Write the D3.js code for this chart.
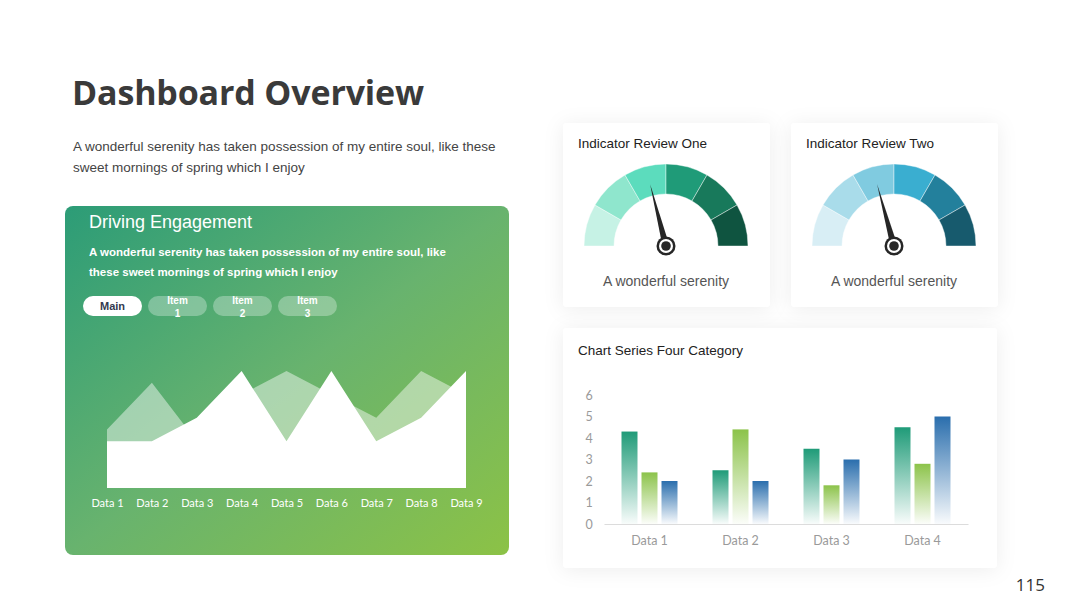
<!DOCTYPE html>
<html>
<head>
<meta charset="utf-8">
<script src="https://cdn.jsdelivr.net/npm/d3@7"></script>
<style>
  html, body { margin: 0; padding: 0; background: #fff; }
  svg { display: block; }
</style>
</head>
<body>
<div id="chart"></div>
<script>
// area chart data (Driving Engagement panel)
const areaLabels = ["Data 1", "Data 2", "Data 3", "Data 4", "Data 5", "Data 6", "Data 7", "Data 8", "Data 9"];
const areaBack = [2.5, 4.5, 2, 4, 5, 4, 3, 5, 4];
const areaFront = [2, 2, 3, 5, 2, 5, 2, 3, 5];

// gauges
const gaugeTitles = ["Indicator Review One", "Indicator Review Two"];
const gaugeValues = [42, 41.5];
const gaugeColors = [
    ["#c6f2e5", "#8fe6cd", "#5cdcbd", "#1f9b78", "#18795b", "#0f5440"],
    ["#d8eef5", "#a9dcea", "#80cbe0", "#3aaed0", "#23809c", "#175a6d"]
];

// grouped bar chart
const barCategories = ["Data 1", "Data 2", "Data 3", "Data 4"];
const barSeries = ["Series 1", "Series 2", "Series 3"];
const series1 = [4.3, 2.5, 3.5, 4.5];
const series2 = [2.4, 4.4, 1.8, 2.8];
const series3 = [2, 2, 3, 5];
const barTicks = [0, 1, 2, 3, 4, 5, 6];
const barColors = ["#1f9b78", "#8cc34a", "#2a6ead"];

const pills = ["Main", "Item 1", "Item 2", "Item 3"];

const W = 1080, H = 608;
const svg = d3.select("#chart").append("svg")
    .attr("width", W)
    .attr("height", H);

const defs = svg.append("defs");

// soft shadow for white cards
const sh = defs.append("filter").attr("id", "shadow")
    .attr("x", "-20%").attr("y", "-20%").attr("width", "140%").attr("height", "140%");
sh.append("feDropShadow").attr("dx", 0).attr("dy", 2).attr("stdDeviation", 10)
    .attr("flood-color", "#000").attr("flood-opacity", 0.07);

// green panel gradient
const gg = defs.append("linearGradient").attr("id", "panelGrad")
    .attr("x1", "0%").attr("y1", "0%").attr("x2", "100%").attr("y2", "100%");
gg.append("stop").attr("offset", "0%").attr("stop-color", "#2c9c77");
gg.append("stop").attr("offset", "50%").attr("stop-color", "#68b36e");
gg.append("stop").attr("offset", "100%").attr("stop-color", "#8cc246");

// bar gradients
barColors.forEach((c, i) => {
    const lg = defs.append("linearGradient").attr("id", "barGrad" + i)
        .attr("x1", 0).attr("y1", 0).attr("x2", 0).attr("y2", 1);
    lg.append("stop").attr("offset", "0%").attr("stop-color", c);
    lg.append("stop").attr("offset", "100%").attr("stop-color", c).attr("stop-opacity", 0.03);
});

// ---------- header ----------
svg.append("text")
    .attr("x", 72).attr("y", 105)
    .attr("font-family", "Open Sans, sans-serif")
    .attr("font-weight", 700)
    .attr("font-size", 34)
    .attr("fill", "#3a3a3a")
    .attr("letter-spacing", -0.15)
    .text("Dashboard Overview");

const sub = svg.append("text")
    .attr("font-family", "Liberation Sans, Arial, sans-serif")
    .attr("font-size", 13.5)
    .attr("fill", "#444");
sub.append("tspan").attr("x", 73).attr("y", 151)
    .text("A wonderful serenity has taken possession of my entire soul, like these");
sub.append("tspan").attr("x", 73).attr("y", 172)
    .text("sweet mornings of spring which I enjoy");

svg.append("text")
    .attr("x", 1045).attr("y", 591)
    .attr("text-anchor", "end")
    .attr("font-family", "Open Sans, sans-serif")
    .attr("font-size", 17)
    .attr("fill", "#333")
    .text("115");

// ---------- green panel ----------
const panel = svg.append("g");
panel.append("rect")
    .attr("x", 65).attr("y", 206).attr("width", 444).attr("height", 349)
    .attr("rx", 8)
    .attr("fill", "url(#panelGrad)");

panel.append("text")
    .attr("x", 89).attr("y", 228)
    .attr("font-family", "Liberation Sans, Arial, sans-serif")
    .attr("font-size", 18)
    .attr("fill", "#fff")
    .text("Driving Engagement");

const pdesc = panel.append("text")
    .attr("font-family", "Liberation Sans, Arial, sans-serif")
    .attr("font-size", 11.5)
    .attr("font-weight", 700)
    .attr("fill", "#fff");
pdesc.append("tspan").attr("x", 89).attr("y", 256)
    .text("A wonderful serenity has taken possession of my entire soul, like");
pdesc.append("tspan").attr("x", 89).attr("y", 276)
    .text("these sweet mornings of spring which I enjoy");

// pills
const pillX = d3.scaleBand().domain(pills).range([83, 337]).paddingInner(0.092);
pills.forEach((p, i) => {
    const x = pillX(p);
    panel.append("rect")
        .attr("x", x).attr("y", 296)
        .attr("width", pillX.bandwidth()).attr("height", 20)
        .attr("rx", 10)
        .attr("fill", "#fff")
        .attr("fill-opacity", i === 0 ? 1 : 0.3);
    const t = panel.append("text")
        .attr("text-anchor", "middle")
        .attr("font-family", "Liberation Sans, Arial, sans-serif")
        .attr("font-weight", 700)
        .attr("font-size", i === 0 ? 11 : 10)
        .attr("fill", i === 0 ? "#333a50" : "#fff");
    const cx = x + pillX.bandwidth() / 2;
    if (i === 0) {
        t.attr("x", cx).attr("y", 310).text(p);
    } else {
        const parts = p.split(" ");
        t.append("tspan").attr("x", cx).attr("y", 304).text(parts[0]);
        t.append("tspan").attr("x", cx).attr("y", 317).text(parts[1]);
    }
});

// area chart
const ax = d3.scalePoint().domain(areaLabels).range([107, 466]);
const ay = d3.scaleLinear().domain([0, 5]).range([488, 371]);

const area = d3.area()
    .x((d, i) => ax(areaLabels[i]))
    .y0(ay(0))
    .y1(d => ay(d));

panel.append("path")
    .datum(areaBack)
    .attr("d", area)
    .attr("fill", "#fff")
    .attr("fill-opacity", 0.45);

panel.append("path")
    .datum(areaFront)
    .attr("d", area)
    .attr("fill", "#fff");

const axisG = panel.append("g")
    .attr("transform", `translate(0, ${ay(0)})`)
    .call(d3.axisBottom(ax).tickSize(0).tickPadding(11));
axisG.select(".domain").remove();
axisG.selectAll("text")
    .attr("font-family", "Lato, sans-serif")
    .attr("font-size", 11)
    .attr("fill", "#fff");

// ---------- gauge cards ----------
const cardXs = [563, 791];
gaugeTitles.forEach((title, gi) => {
    const cx0 = cardXs[gi];
    const card = svg.append("g");
    card.append("rect")
        .attr("x", cx0).attr("y", 123).attr("width", 207).attr("height", 184)
        .attr("rx", 4)
        .attr("fill", "#fff")
        .attr("filter", "url(#shadow)");
    card.append("text")
        .attr("x", cx0 + 15).attr("y", 148)
        .attr("font-family", "Liberation Sans, Arial, sans-serif")
        .attr("font-size", 13.5)
        .attr("fill", "#222")
        .text(title);

    const gcx = cx0 + 103, gcy = 246;
    const g = card.append("g").attr("transform", `translate(${gcx}, ${gcy})`);

    const angle = d3.scaleLinear().domain([0, 100]).range([-Math.PI / 2, Math.PI / 2]);
    const segs = d3.range(6).map(i => ({
        startAngle: angle(i * 100 / 6),
        endAngle: angle((i + 1) * 100 / 6),
        color: gaugeColors[gi][i]
    }));
    const arc = d3.arc().innerRadius(52).outerRadius(82);
    g.selectAll("path.seg").data(segs).join("path")
        .attr("class", "seg")
        .attr("d", arc)
        .attr("fill", d => d.color)
        .attr("stroke", "#fff")
        .attr("stroke-opacity", 0.6)
        .attr("stroke-width", 0.7);

    // needle
    const a = angle(gaugeValues[gi]);
    const len = 64;
    const tipX = Math.sin(a) * len, tipY = -Math.cos(a) * len;
    const px = Math.cos(a) * 3.5, py = Math.sin(a) * 3.5;
    g.append("path")
        .attr("d", `M${tipX},${tipY} L${px},${py} L${-px},${-py} Z`)
        .attr("fill", "#262626");
    g.append("circle").attr("r", 9.5).attr("fill", "#262626");
    g.append("circle").attr("r", 7).attr("fill", "#fff");
    g.append("circle").attr("r", 4.8).attr("fill", "#262626");

    card.append("text")
        .attr("x", gcx).attr("y", 286)
        .attr("text-anchor", "middle")
        .attr("font-family", "Liberation Sans, Arial, sans-serif")
        .attr("font-size", 14)
        .attr("fill", "#555")
        .text("A wonderful serenity");
});

// ---------- bar chart card ----------
const bc = svg.append("g");
bc.append("rect")
    .attr("x", 563).attr("y", 328).attr("width", 434).attr("height", 240)
    .attr("rx", 4)
    .attr("fill", "#fff")
    .attr("filter", "url(#shadow)");
bc.append("text")
    .attr("x", 578).attr("y", 355)
    .attr("font-family", "Liberation Sans, Arial, sans-serif")
    .attr("font-size", 13.5)
    .attr("fill", "#222")
    .text("Chart Series Four Category");

const bx = d3.scaleBand().domain(barCategories).range([604, 968]);
const bxInner = d3.scaleBand().domain(barSeries).range([0, 56]).paddingInner(0.2);
const by = d3.scaleLinear().domain([0, 6]).range([524, 395]);

const allSeries = [series1, series2, series3];
barCategories.forEach((cat, ci) => {
    const x0 = bx(cat) + (bx.bandwidth() - 56) / 2;
    barSeries.forEach((s, si) => {
        const v = allSeries[si][ci];
        bc.append("rect")
            .attr("x", x0 + bxInner(s))
            .attr("y", by(v))
            .attr("width", bxInner.bandwidth())
            .attr("height", by(0) - by(v))
            .attr("fill", `url(#barGrad${si})`);
    });
});

const byAxis = bc.append("g")
    .attr("transform", "translate(589, 0)")
    .call(d3.axisLeft(by).tickValues(barTicks).tickFormat(d3.format("d")).tickSize(0).tickPadding(0));
byAxis.select(".domain").remove();
byAxis.selectAll("text")
    .attr("text-anchor", "middle")
    .attr("font-family", "Lato, sans-serif")
    .attr("font-size", 12.5)
    .attr("fill", "#9a9a9a");

const bxAxis = bc.append("g")
    .attr("transform", `translate(0, ${by(0)})`)
    .call(d3.axisBottom(bx).tickSize(0).tickPadding(12));
bxAxis.select(".domain").attr("stroke", "#dcdcdc").attr("stroke-width", 1.2);
bxAxis.selectAll("text")
    .attr("font-family", "Lato, sans-serif")
    .attr("font-size", 12.5)
    .attr("fill", "#9a9a9a");
</script>
</body>
</html>
